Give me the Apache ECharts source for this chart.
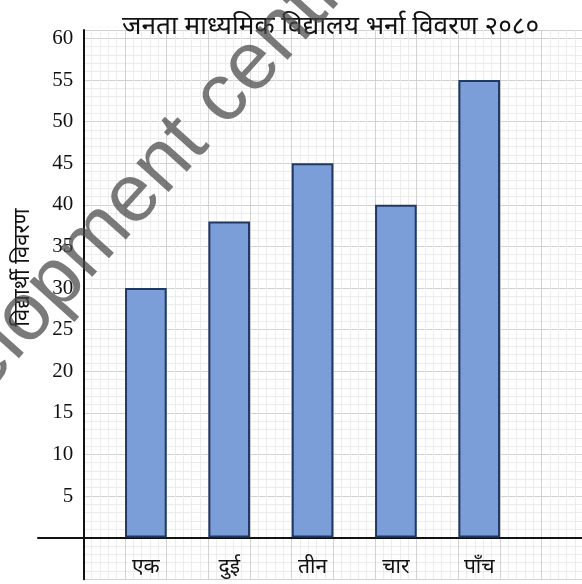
<!DOCTYPE html>
<html>
<head>
<meta charset="utf-8">
<script src="https://cdn.jsdelivr.net/npm/echarts@6/dist/echarts.min.js"></script>
<style>
  html, body { margin: 0; background: #fff; }
  #main { width: 582px; height: 584px; }
</style>
</head>
<body>
<div id="main"></div>
<script>
// chart data
const titleText = 'जनता माध्यमिक विद्यालय भर्ना विवरण २०८०';
const yName = 'विद्यार्थी विवरण';
const classes = ['एक', 'दुई', 'तीन', 'चार', 'पाँच'];
const students = [30, 38, 45, 40, 55];
const yLabelMax = 60;
const yStep = 5;
// graph paper runs a little past the labelled range
const paperMin = -5, paperMax = 61, paperCols = 60;
const watermark = 'Development centre';

const deva = '"Noto Sans Devanagari", "Lohit Devanagari", FreeSans, sans-serif';
const serif = '"Liberation Serif", "DejaVu Serif", serif';

// paper spans -5..61, bars/baseline grids span 0..61 with the same unit
const gridTop = 30.1, paperH = 549.1, plotH = 507.5;

let chart = echarts.init(document.getElementById('main'));

let hiddenY = (min) => ({
  type: 'value', min: min, max: paperMax,
  splitLine: { show: false }, axisTick: { show: false },
  axisLabel: { show: false }, axisLine: { show: false }
});

let option = {
  animation: false,
  backgroundColor: '#fff',
  title: {
    text: titleText, left: 117, top: 11,
    textStyle: { fontFamily: deva, fontSize: 26.2, fontWeight: 'normal', color: '#111' }
  },
  grid: [
    { left: 83.3, top: gridTop, width: 500, height: paperH, outerBoundsMode: 'none' },   // paper
    { left: 104.2, top: gridTop, width: 416.7, height: plotH, outerBoundsMode: 'none' }, // bars
    { left: 38, top: gridTop, right: 0, height: plotH, outerBoundsMode: 'none' }         // base line
  ],
  xAxis: [
    {
      gridIndex: 0, type: 'value', min: 0, max: paperCols, interval: 5,
      axisLine: { show: false }, axisTick: { show: false }, axisLabel: { show: false },
      splitLine: { lineStyle: { color: '#d2d2d2', width: 1 } },
      minorTick: { show: false, splitNumber: 5 },
      minorSplitLine: { show: true, lineStyle: { color: '#ececec', width: 1 } }
    },
    {
      gridIndex: 1, type: 'category', data: classes, position: 'bottom',
      axisLine: { show: false }, axisTick: { show: false },
      axisLabel: { margin: 21, fontFamily: deva, fontSize: 21, color: '#111' },
      splitLine: { show: false }
    },
    {
      gridIndex: 2, type: 'value', min: 0, max: 1, position: 'bottom',
      axisLine: { show: true, onZero: false, lineStyle: { color: '#111', width: 2 } },
      axisTick: { show: false }, axisLabel: { show: false }, splitLine: { show: false }
    }
  ],
  yAxis: [
    {
      gridIndex: 0, type: 'value', min: paperMin, max: paperMax, interval: yStep,
      name: yName, nameLocation: 'middle', nameGap: 47, nameRotate: 90,
      nameTextStyle: { fontFamily: deva, fontSize: 22, color: '#111', padding: [0, 0, 0, 74] },
      axisLine: { show: true, lineStyle: { color: '#111', width: 2 } },
      axisTick: { show: false },
      axisLabel: {
        margin: 10, fontFamily: serif, fontSize: 21, color: '#111',
        padding: [10, 0, 0, 0],
        formatter: (v) => (v > 0 && v <= yLabelMax && v % yStep === 0) ? String(v) : ''
      },
      splitLine: { lineStyle: { color: '#d2d2d2', width: 1 } },
      minorTick: { show: false, splitNumber: 5 },
      minorSplitLine: { show: true, lineStyle: { color: '#ececec', width: 1 } }
    },
    Object.assign(hiddenY(0), { gridIndex: 1 }),
    Object.assign(hiddenY(0), { gridIndex: 2 })
  ],
  series: [
    {
      type: 'bar', xAxisIndex: 1, yAxisIndex: 1,
      data: students, barWidth: '50%',
      itemStyle: { color: '#7b9ed8', borderColor: '#1f3864', borderWidth: 2 }
    }
  ],
  graphic: [
    {
      type: 'text', x: -160, y: 462, rotation: 0.838, z: 100, silent: true,
      style: {
        text: watermark, fontFamily: '"Liberation Sans", Arial, sans-serif', fontSize: 82,
        fill: 'rgba(70,70,70,0.72)', textAlign: 'left', textVerticalAlign: 'alphabetic'
      }
    }
  ]
};

chart.setOption(option);
</script>
</body>
</html>
